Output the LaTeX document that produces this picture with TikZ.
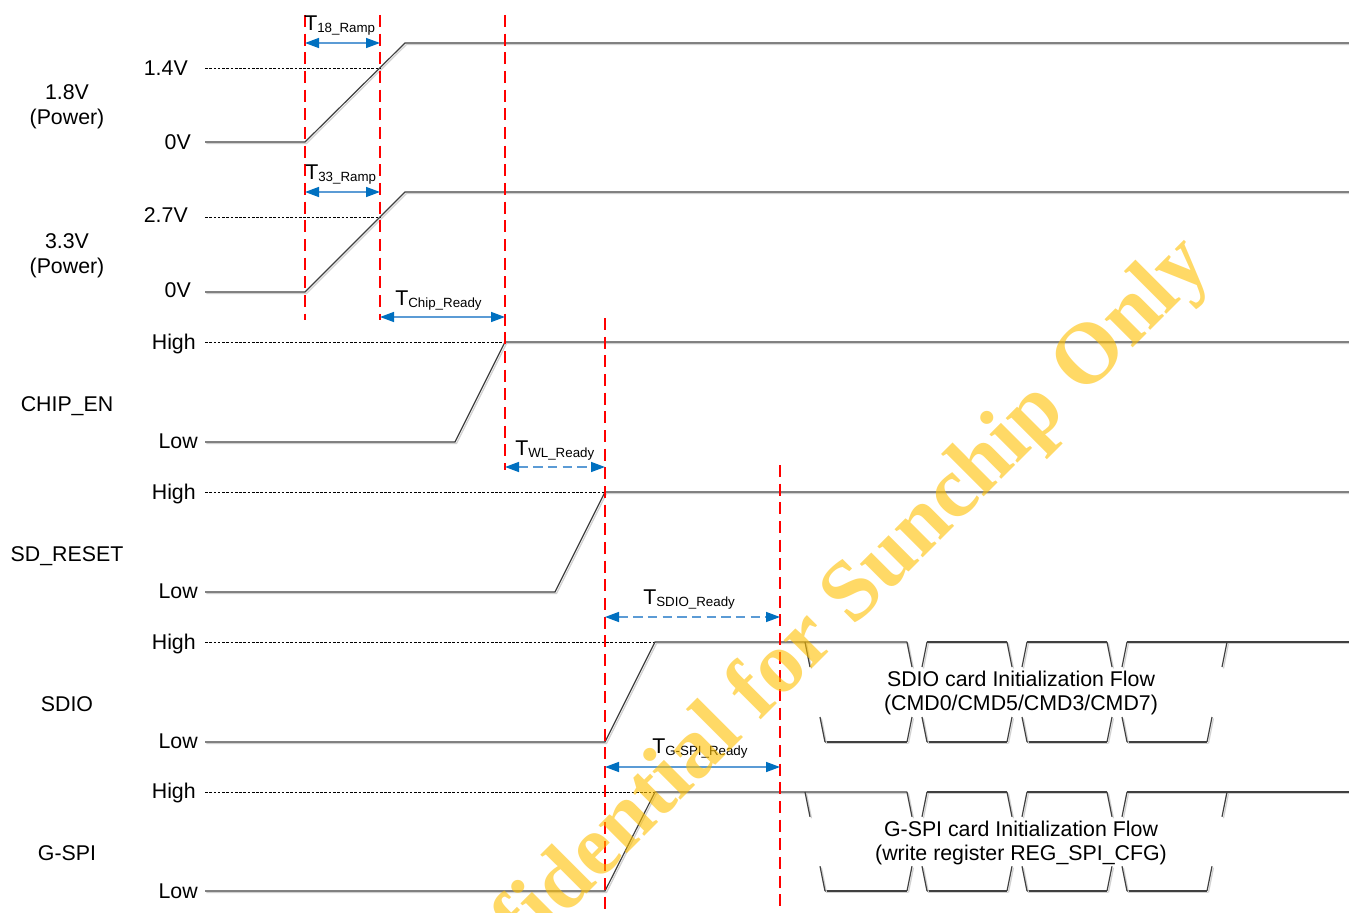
\documentclass[tikz,border=0pt]{standalone}
\usepackage{fontspec}
\setmainfont{Liberation Sans}
\newfontfamily\wmfont{Liberation Serif}
\usetikzlibrary{arrows.meta,calc}
\definecolor{sigcol}{HTML}{404040}
\definecolor{redl}{HTML}{FF0000}
\definecolor{arline}{HTML}{5B9BD5}
\definecolor{arhead}{HTML}{0070C0}
\definecolor{wmcol}{HTML}{FFC000}
\newcommand\tlab[1]{T\raisebox{-1.5pt}{\fontsize{10}{12}\selectfont #1}}
\newcommand\gapedge[2]{\draw[sig] (#1) -- ($(#1)!0.25!(#2)$); \draw[sig] ($(#1)!0.75!(#2)$) -- (#2);}
\begin{document}
\begin{tikzpicture}[x=0.75pt,y=-0.75pt,
  sig/.style={draw=sigcol, line width=0.9pt, line join=miter,
    preaction={draw=black!18, line width=0.9pt, transform canvas={shift={(1.1pt,-1.1pt)}}}},
  refl/.style={draw=black, line width=0.55pt, dash pattern=on 2pt off 1.2pt},
  redd/.style={draw=redl, line width=1.5pt, dash pattern=on 9pt off 5pt},
  tarr/.style={draw=arline, line width=1.1pt,
    {Triangle[length=10.5pt,width=7.5pt,color=arhead]}-{Triangle[length=10.5pt,width=7.5pt,color=arhead]}},
  tarrd/.style={tarr, dash pattern=on 7pt off 4pt},
  lvl/.style={anchor=base east, inner sep=0pt, font=\fontsize{16}{19}\selectfont},
  sname/.style={anchor=base, inner sep=0pt, font=\fontsize{16}{19}\selectfont},
  tl/.style={anchor=base west, inner sep=0pt, font=\fontsize{16}{19}\selectfont},
  bustxt/.style={anchor=base, inner sep=0pt, font=\fontsize{16}{19}\selectfont}]
\fill[white] (0,0) rectangle (1349,913);
\useasboundingbox (0,0) rectangle (1349,913);

% signal names
\node[sname] (n18a) at (67,99.5) {1.8V};
\node[sname] (n18b) at (67,124.5) {(Power)};
\node[sname] (n33a) at (67,248.5) {3.3V};
\node[sname] (n33b) at (67,273.5) {(Power)};
\node[sname] (nchip) at (67,411.5) {CHIP\_EN};
\node[sname] (nsdr) at (67,561.5) {SD\_RESET};
\node[sname] (nsdio) at (67,711.5) {SDIO};
\node[sname] (ngspi) at (67,860.5) {G-SPI};

% level labels
\node[lvl] (v14) at (188,75.5) {1.4V};
\node[lvl] (v0a) at (191,149.5) {0V};
\node[lvl] (v27) at (188,222.5) {2.7V};
\node[lvl] (v0b) at (191,297.5) {0V};
\node[lvl] (h3) at (196,349.5) {High};
\node[lvl] (l3) at (198,448.5) {Low};
\node[lvl] (h4) at (196,499.5) {High};
\node[lvl] (l4) at (198,598.5) {Low};
\node[lvl] (h5) at (196,649.5) {High};
\node[lvl] (l5) at (198,748.5) {Low};
\node[lvl] (h6) at (196,798.5) {High};
\node[lvl] (l6) at (198,898.5) {Low};

% reference dashed levels
\draw[refl] (205,68) -- (380,68);
\draw[refl] (205,217) -- (380,217);
\draw[refl] (205,342) -- (505,342);
\draw[refl] (205,492) -- (605,492);
\draw[refl] (205,642) -- (655,642);
\draw[refl] (205,792) -- (655,792);

% signals
\draw[sig] (205,142) -- (305,142) -- (405,43) -- (1349,43);
\draw[sig] (205,292) -- (305,292) -- (405,192) -- (1349,192);
\draw[sig] (205,442) -- (455,442) -- (505,342) -- (1349,342);
\draw[sig] (205,592) -- (555,592) -- (605,492) -- (1349,492);
\draw[sig] (205,742) -- (605,742) -- (655,642) -- (907,642);
\draw[sig] (205,891) -- (605,891) -- (655,792) -- (907,792);

% bus segments
\foreach \T/\B in {642/742,792/891}{
  \draw[sig] (825,\B) -- (907,\B);
  \draw[sig] (927,\B) -- (1007,\B);
  \draw[sig] (1027,\B) -- (1107,\B);
  \draw[sig] (1127,\B) -- (1207,\B);
  \draw[sig] (927,\T) -- (1007,\T);
  \draw[sig] (1027,\T) -- (1107,\T);
  \draw[sig] (1127,\T) -- (1349,\T);
  \gapedge{805,\T}{825,\B}
  \gapedge{907,\T}{927,\B}
  \gapedge{927,\T}{907,\B}
  \gapedge{1007,\T}{1027,\B}
  \gapedge{1027,\T}{1007,\B}
  \gapedge{1107,\T}{1127,\B}
  \gapedge{1127,\T}{1107,\B}
  \gapedge{1207,\B}{1227,\T}
}
\node[bustxt] (s1) at (1021,686) {SDIO card Initialization Flow};
\node[bustxt] (s2) at (1021,710.5) {(CMD0/CMD5/CMD3/CMD7)};
\node[bustxt] (g1) at (1021,836.5) {G-SPI card Initialization Flow};
\node[bustxt] (g2) at (1021,860.5) {(write register REG\_SPI\_CFG)};

% red markers
\draw[redd] (305,15) -- (305,320);
\draw[redd] (380,15) -- (380,320);
\draw[redd] (505,15) -- (505,470);
\draw[redd] (605,318) -- (605,913);
\draw[redd] (780,465) -- (780,913);

% timing arrows
\coordinate (a1l) at (305,43);  \coordinate (a1r) at (380,43);
\coordinate (a2l) at (305,192); \coordinate (a2r) at (380,192);
\coordinate (a3l) at (380,317); \coordinate (a3r) at (505,317);
\coordinate (a4l) at (505,467); \coordinate (a4r) at (605,467);
\coordinate (a5l) at (605,617); \coordinate (a5r) at (780,617);
\coordinate (a6l) at (605,767); \coordinate (a6r) at (780,767);
\draw[tarr] (a1l) -- (a1r);
\draw[tarr] (a2l) -- (a2r);
\draw[tarr] (a3l) -- (a3r);
\draw[tarrd] (a4l) -- (a4r);
\draw[tarrd] (a5l) -- (a5r);
\draw[tarr] (a6l) -- (a6r);
\node[tl] (t18) at (304,31) {\tlab{18\_Ramp}};
\node[tl] (t33) at (305,180) {\tlab{33\_Ramp}};
\node[tl] (tchip) at (395,305) {\tlab{Chip\_Ready}};
\node[tl] (twl) at (515,455) {\tlab{WL\_Ready}};
\node[tl] (tsdio) at (643,604) {\tlab{SDIO\_Ready}};
\node[tl] (tgspi) at (652,753) {\tlab{G-SPI\_Ready}};

% watermark
\node[rotate=45, anchor=base east, inner sep=0pt, text=wmcol, text opacity=0.6,
  font=\wmfont\bfseries\fontsize{65}{70}\selectfont] (wm) at (1213,268) {Confidential for Sunchip Only};
\end{tikzpicture}
\end{document}
